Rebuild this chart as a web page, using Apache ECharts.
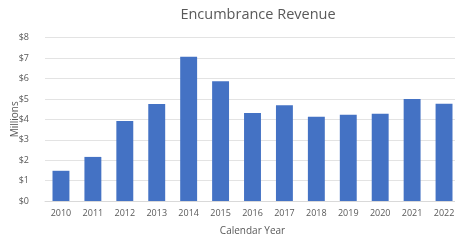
<!DOCTYPE html>
<html><head><meta charset="utf-8">
<script src="https://cdn.jsdelivr.net/npm/echarts@6/dist/echarts.min.js"></script>
<style>html,body{margin:0;padding:0;background:#fff}#c{width:455px;height:242px}</style>
</head><body><div id="c"></div>
<script>
const years = ['2010','2011','2012','2013','2014','2015','2016','2017','2018','2019','2020','2021','2022'];
const revenue = [1.48, 2.16, 3.92, 4.75, 7.07, 5.87, 4.31, 4.69, 4.13, 4.22, 4.28, 5.0, 4.77];
const yTicks = [0, 8, 1];
const chart = echarts.init(document.getElementById('c'));
const grey = '#595959';
chart.setOption({
  animation: false,
  title: {text: 'Encumbrance Revenue', left: 253, top: 2, textAlign: 'center',
    textStyle: {fontFamily: 'Open Sans', fontSize: 14.5, fontWeight: 'normal', color: grey}},
  grid: {left: 45, top: 37.7, width: 415, height: 163.3, containLabel: false, outerBoundsMode: 'none'},
  xAxis: {type: 'category', data: years,
    name: 'Calendar Year', nameLocation: 'middle', nameGap: 25, nameMoveOverlap: false,
    nameTextStyle: {fontFamily: 'Open Sans', fontSize: 10, color: grey},
    axisLine: {lineStyle: {color: '#d9d9d9'}}, axisTick: {show: false},
    axisLabel: {fontFamily: 'Open Sans', fontSize: 9, color: grey, margin: 8, interval: 0}},
  yAxis: {type: 'value', min: yTicks[0], max: yTicks[1], interval: yTicks[2],
    name: 'Millions', nameLocation: 'middle', nameGap: 25, nameRotate: 90, nameMoveOverlap: false,
    nameTextStyle: {fontFamily: 'Open Sans', fontSize: 10, color: grey},
    axisLine: {show: false}, axisTick: {show: false},
    splitLine: {lineStyle: {color: '#e3e3e3', width: 1}},
    axisLabel: {fontFamily: 'Open Sans', fontSize: 9, color: grey, margin: 16, formatter: '${value}'}},
  series: [{type: 'bar', data: revenue, barCategoryGap: '47%', itemStyle: {color: '#4472C4'}}]
});
</script></body></html>
